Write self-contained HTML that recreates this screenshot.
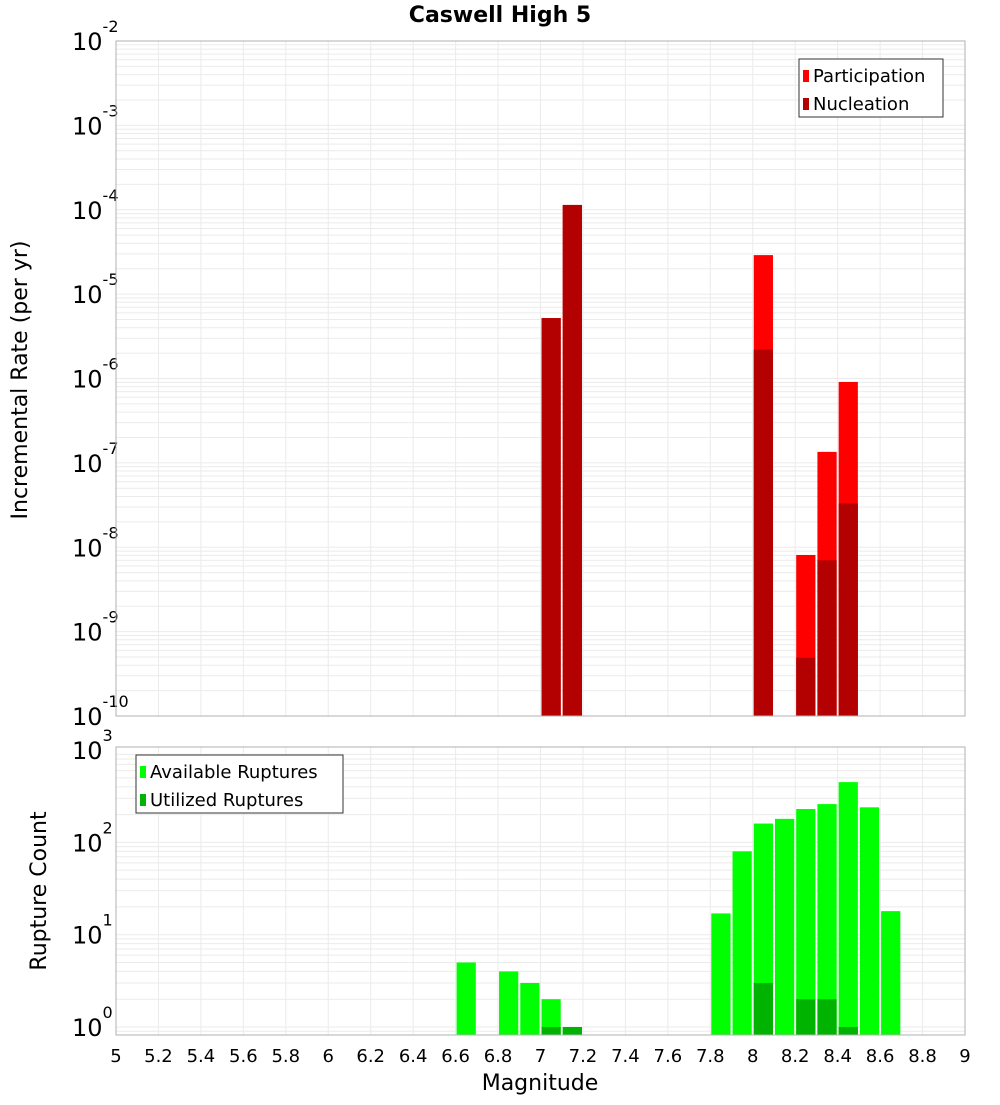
<!DOCTYPE html>
<html><head><meta charset="utf-8"><style>
body{margin:0;background:#fff}
svg text{font-family:"DejaVu Sans","Liberation Sans",sans-serif}
</style></head><body>
<svg id="c" width="1000" height="1100" xmlns="http://www.w3.org/2000/svg">
<text x="500" y="22" text-anchor="middle" font-size="22" font-weight="bold">Caswell High 5</text>
<g id="top"></g><g id="bot"></g>
<text transform="translate(27,380) rotate(-90)" text-anchor="middle" font-size="22">Incremental Rate (per yr)</text>
<text transform="translate(46,891) rotate(-90)" text-anchor="middle" font-size="22">Rupture Count</text>
<text x="540" y="1090" text-anchor="middle" font-size="22">Magnitude</text>
</svg>
<script>
const partMags=[7.05,7.15,8.05,8.25,8.35,8.45];
const partVals=[5.2e-6,1.14e-4,2.9e-5,8.1e-9,1.35e-7,9.1e-7];
const nucMags=[7.05,7.15,8.05,8.25,8.35,8.45];
const nucVals=[5.2e-6,1.14e-4,2.2e-6,4.9e-10,7e-9,3.3e-8];
const availMags=[6.65,6.85,6.95,7.05,7.15,7.85,7.95,8.05,8.15,8.25,8.35,8.45,8.55,8.65];
const availVals=[5,4,3,2,1,17,80,160,180,230,260,450,240,18];
const utilMags=[7.05,7.15,8.05,8.25,8.35,8.45];
const utilVals=[1,1,3,2,2,1];
const xTicks=["5","5.2","5.4","5.6","5.8","6","6.2","6.4","6.6","6.8","7","7.2","7.4","7.6","7.8","8","8.2","8.4","8.6","8.8","9"];
const topExp=[-2,-3,-4,-5,-6,-7,-8,-9,-10];
const botExp=[3,2,1,0];
const NS="http://www.w3.org/2000/svg";
const L=116,R=965;
const X=m=>L+(m-5)/4*(R-L);
const yTop=v=>41+(-2-Math.log10(v))*84.375;
const yBot=v=>1027-Math.log10(v)*92.3;
function mk(p,t,a){const e=document.createElementNS(NS,t);for(const k in a)e.setAttribute(k,a[k]);p.appendChild(e);return e;}
function panel(g,y0,y1,yf,dmin,dmax,exps,name){
  mk(g,'rect',{x:L,y:y0,width:R-L,height:y1-y0,fill:'#fff'});
  for(let d=dmin;d<dmax;d++)for(let k=1;k<10;k++){const yy=yf(k*Math.pow(10,d));if(yy<y0||yy>y1)continue;
    const ln=mk(g,'line',{x1:L,x2:R,y1:yy,y2:yy,stroke:'#ebebeb','stroke-width':1});
    
    }
  xTicks.forEach(t=>{const xx=X(+t);const ln=mk(g,'line',{x1:xx,x2:xx,y1:y0,y2:y1,stroke:'#ebebeb'});
    
    });
  exps.forEach(e=>{const yy=yf(Math.pow(10,e));const t=mk(g,'text',{x:72,y:yy+9,'font-size':24});
    
    
    t.textContent='10';const s=mk(t,'tspan',{dy:-18,'font-size':16});s.textContent=String(e);});
}
function bars(g,mags,vals,yf,y1,col,name){
  mags.forEach((m,i)=>{const yy=yf(vals[i]);const r=mk(g,'rect',{x:X(m-0.05)+1,y:yy,width:X(0.1+5)-L-2,height:y1-yy,fill:col});
    
    });
}
const gt=document.getElementById('top'),gb=document.getElementById('bot');
panel(gt,41,716,yTop,-10,-2,topExp,'top');
bars(gt,partMags,partVals,yTop,716,'#ff0000','participation-bar');
bars(gt,nucMags,nucVals,yTop,716,'#b30000','nucleation-bar');
mk(gt,'rect',{x:L,y:41,width:R-L,height:675,fill:'none',stroke:'#b0b0b0'});
panel(gb,747,1035,yBot,-1,3,botExp,'bottom');
bars(gb,availMags,availVals,yBot,1035,'#00ff00','available-bar');
bars(gb,utilMags,utilVals,yBot,1035,'#00b300','utilized-bar');
mk(gb,'rect',{x:L,y:747,width:R-L,height:288,fill:'none',stroke:'#b0b0b0'});
xTicks.forEach(t=>{const e=mk(gb,'text',{x:X(+t),y:1062,'text-anchor':'middle','font-size':18});
  
  
  e.textContent=t;});
function legend(g,x,y,w,items,name){
  const b=mk(g,'rect',{x:x,y:y,width:w,height:58,fill:'#fff',stroke:'#333'});
  
  
  items.forEach((it,i)=>{mk(g,'rect',{x:x+4,y:y+11+i*28,width:6,height:12,fill:it[1]});
    const t=mk(g,'text',{x:x+14,y:y+23+i*28,'font-size':18});
    
    
    t.textContent=it[0];});
}
legend(gt,799,59,144,[['Participation','#ff0000'],['Nucleation','#b30000']],'top-legend');
legend(gb,136,755,207,[['Available Ruptures','#00ff00'],['Utilized Ruptures','#00b300']],'bottom-legend');
</script>
</body></html>
